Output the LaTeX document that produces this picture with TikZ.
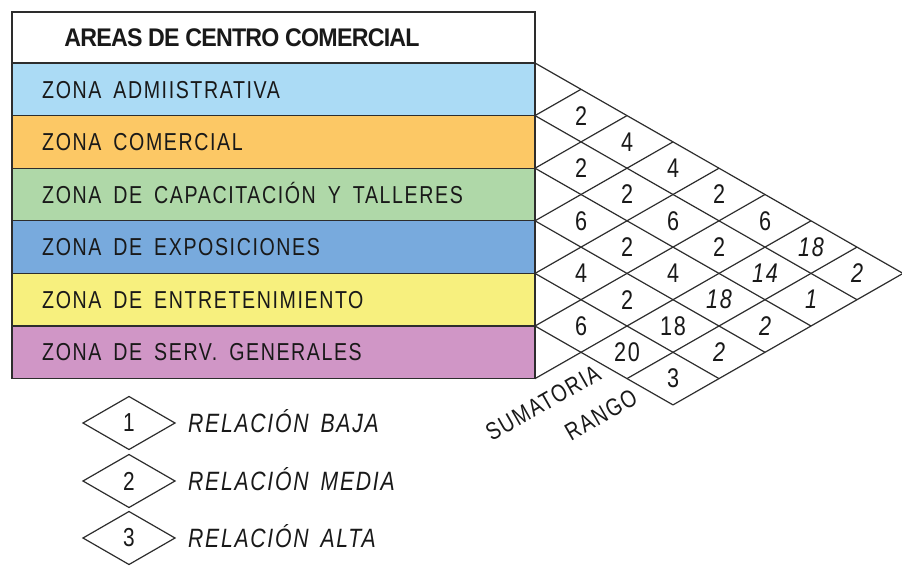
\documentclass[tikz,border=0pt]{standalone}
\usepackage{fontspec}
\setmainfont{Liberation Sans}
\newfontfamily\zonefont[FakeStretch=0.80,LetterSpace=6.5]{Liberation Sans}
\newfontfamily\headfont[FakeStretch=0.91,LetterSpace=-3]{Liberation Sans Bold}
\definecolor{zAdm}{RGB}{171,219,245}
\definecolor{zCom}{RGB}{252,200,101}
\definecolor{zCap}{RGB}{175,216,168}
\definecolor{zExp}{RGB}{120,170,221}
\definecolor{zEnt}{RGB}{247,240,126}
\definecolor{zSer}{RGB}{208,150,198}
\definecolor{txt}{RGB}{25,25,25}
\definecolor{gridc}{RGB}{45,45,45}
\newcommand\zg{\hspace{12pt}}
\tikzset{
  zonebox/.style={draw=gridc, line width=1.3pt},
  zonetxt/.style={anchor=base west, inner sep=0pt, text=txt, font=\zonefont\fontsize{24.5}{24.5}\selectfont},
  headtxt/.style={inner sep=0pt, text=txt, font=\headfont\fontsize{25.5}{25.5}\selectfont},
  gridline/.style={draw=gridc, line width=1.2pt},
  cellnum/.style={inner sep=0pt, text=txt, font=\zonefont\fontsize{27}{27}\selectfont},
  cellnumit/.style={cellnum, font=\zonefont\itshape\fontsize{27}{27}\selectfont},
  axistxt/.style={inner sep=0pt, text=txt, rotate=29.76, font=\zonefont\fontsize{24.5}{24.5}\selectfont},
  legdiam/.style={draw=gridc, line width=1.2pt},
  legtxt/.style={anchor=base west, inner sep=0pt, text=txt, font=\zonefont\itshape\fontsize{26.5}{26.5}\selectfont},
  legnum/.style={inner sep=0pt, text=txt, font=\zonefont\fontsize{26}{26}\selectfont}
}
\begin{document}
\begin{tikzpicture}[x=1pt,y=-1pt]
\useasboundingbox[fill=white] (0,0) rectangle (902,568);
% table rows
\fill[white] (12,12) rectangle (535,63);
\fill[zAdm] (12,63) rectangle (535,115.6);
\fill[zCom] (12,115.6) rectangle (535,168.2);
\fill[zCap] (12,168.2) rectangle (535,220.8);
\fill[zExp] (12,220.8) rectangle (535,273.4);
\fill[zEnt] (12,273.4) rectangle (535,326);
\fill[zSer] (12,326) rectangle (535,378.6);
\draw[zonebox] (12,12) rectangle (535,378.6);
\foreach \yy in {63,115.6,168.2,220.8,273.4,326} \draw[zonebox] (12,\yy) -- (535,\yy);
% texts
\node[headtxt] (head) at (242,38) {AREAS DE CENTRO COMERCIAL};
\node[zonetxt] (z1) at (42,98) {ZONA\zg ADMIISTRATIVA};
\node[zonetxt] (z2) at (42,150.5) {ZONA\zg COMERCIAL};
\node[zonetxt] (z3) at (42,203) {ZONA\zg DE\zg CAPACITACIÓN\zg Y\zg TALLERES};
\node[zonetxt] (z4) at (42,255.5) {ZONA\zg DE\zg EXPOSICIONES};
\node[zonetxt] (z5) at (42,308) {ZONA\zg DE\zg ENTRETENIMIENTO};
\node[zonetxt] (z6) at (42,360.5) {ZONA\zg DE\zg SERV.\zg GENERALES};
% grid: down-right lines
\foreach \k in {0,...,5}
  \draw[gridline] (535,{63+52.6*\k}) -- ({535+46*(8-\k)},{63+26.3*(\k+8)});
% grid: up-right lines
\foreach \m in {1,...,6}
  \draw[gridline] (535,{63+52.6*\m}) -- ({535+46*\m},{63+26.3*\m});
\draw[gridline] ({535+46*2},{63+26.3*12}) -- ({535+46*7},{63+26.3*7});
\draw[gridline] ({535+46*3},{63+26.3*13}) -- ({535+46*8},{63+26.3*8});
% cell values
\foreach \i/\j/\v in {1/2/2,2/3/2,3/4/6,4/5/4,5/6/6,
                      1/3/4,2/4/2,3/5/2,4/6/2,
                      1/4/4,2/5/6,3/6/4,
                      1/5/2,2/6/2,
                      1/6/6,
                      4/7/18,5/7/20,5/8/3}{
  \pgfmathsetmacro\cx{535+46*(\j-\i)}
  \pgfmathsetmacro\cy{63+26.3*(\i+\j-1)}
  \node[cellnum] (c\i\j) at (\cx,\cy) {\v};
}
\foreach \i/\j/\v in {1/7/18,2/7/14,3/7/18,1/8/2,2/8/1,3/8/2,4/8/2}{
  \pgfmathsetmacro\cx{535+46*(\j-\i)}
  \pgfmathsetmacro\cy{63+26.3*(\i+\j-1)}
  \node[cellnumit] (c\i\j) at (\cx,\cy) {\v};
}
% axis labels
\node[axistxt] (sum) at (543,403) {SUMATORIA};
\node[axistxt] (rng) at (601,415) {RANGO};
% legend
\foreach \n/\yc/\t in {1/423/BAJA,2/481/MEDIA,3/538/ALTA}{
  \draw[legdiam] (83,\yc) -- (129,{\yc-26.5}) -- (175,\yc) -- (129,{\yc+26.5}) -- cycle;
  \node[legnum] (ln\n) at (129,\yc) {\n};
  \node[legtxt] (lt\n) at (188,{\yc+9.5}) {RELACIÓN\zg \t};
}
\end{tikzpicture}
\end{document}
